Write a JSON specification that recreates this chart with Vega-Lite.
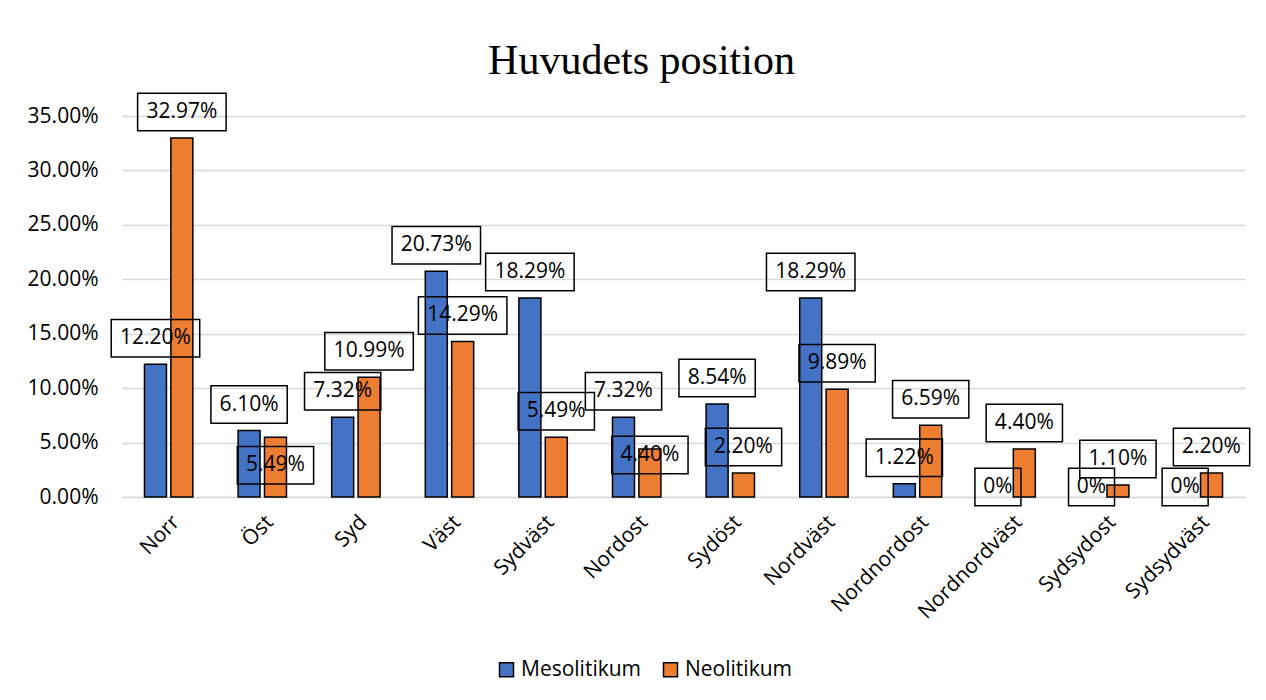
{
  "$schema": "https://vega.github.io/schema/vega-lite/v6.json",
  "width": 1123,
  "height": 381,
  "autosize": "none",
  "padding": {"left": 122, "top": 116, "right": 21, "bottom": 203},
  "background": "white",
  "title": {
    "text": "Huvudets position",
    "font": "Liberation Serif",
    "fontSize": 42,
    "fontWeight": "normal",
    "color": "black",
    "anchor": "middle",
    "dx": -42,
    "offset": 7
  },
  "config": {
    "view": {"stroke": null},
    "font": "Open Sans"
  },
  "data": {
    "values": [
      {"riktning": "Norr", "period": "Mesolitikum", "andel": 0.1220},
      {"riktning": "Norr", "period": "Neolitikum", "andel": 0.3297},
      {"riktning": "Öst", "period": "Mesolitikum", "andel": 0.0610},
      {"riktning": "Öst", "period": "Neolitikum", "andel": 0.0549},
      {"riktning": "Syd", "period": "Mesolitikum", "andel": 0.0732},
      {"riktning": "Syd", "period": "Neolitikum", "andel": 0.1099},
      {"riktning": "Väst", "period": "Mesolitikum", "andel": 0.2073},
      {"riktning": "Väst", "period": "Neolitikum", "andel": 0.1429},
      {"riktning": "Sydväst", "period": "Mesolitikum", "andel": 0.1829},
      {"riktning": "Sydväst", "period": "Neolitikum", "andel": 0.0549},
      {"riktning": "Nordost", "period": "Mesolitikum", "andel": 0.0732},
      {"riktning": "Nordost", "period": "Neolitikum", "andel": 0.0440},
      {"riktning": "Sydöst", "period": "Mesolitikum", "andel": 0.0854},
      {"riktning": "Sydöst", "period": "Neolitikum", "andel": 0.0220},
      {"riktning": "Nordväst", "period": "Mesolitikum", "andel": 0.1829},
      {"riktning": "Nordväst", "period": "Neolitikum", "andel": 0.0989},
      {"riktning": "Nordnordost", "period": "Mesolitikum", "andel": 0.0122},
      {"riktning": "Nordnordost", "period": "Neolitikum", "andel": 0.0659},
      {"riktning": "Nordnordväst", "period": "Mesolitikum", "andel": 0},
      {"riktning": "Nordnordväst", "period": "Neolitikum", "andel": 0.0440},
      {"riktning": "Sydsydost", "period": "Mesolitikum", "andel": 0},
      {"riktning": "Sydsydost", "period": "Neolitikum", "andel": 0.0110},
      {"riktning": "Sydsydväst", "period": "Mesolitikum", "andel": 0},
      {"riktning": "Sydsydväst", "period": "Neolitikum", "andel": 0.0220}
    ]
  },
  "encoding": {
    "x": {
      "field": "riktning",
      "type": "nominal",
      "sort": null,
      "title": null,
      "scale": {"paddingInner": 0.483, "paddingOuter": 0.24},
      "axis": {
        "labelAngle": -45,
        "labelFontSize": 21,
        "labelFont": "Open Sans",
        "labelColor": "black",
        "labelPadding": 14,
        "ticks": false,
        "domainColor": "#d9d9d9",
        "domainWidth": 1.3,
        "grid": false
      }
    },
    "xOffset": {
      "field": "period",
      "sort": ["Mesolitikum", "Neolitikum"],
      "scale": {"paddingInner": 0.1667}
    },
    "y": {
      "field": "andel",
      "type": "quantitative",
      "title": null,
      "scale": {"domain": [0, 0.35], "nice": false},
      "axis": {
        "values": [0, 0.05, 0.1, 0.15, 0.2, 0.25, 0.3, 0.35],
        "format": ".2%",
        "labelFontSize": 21,
        "labelFont": "Open Sans",
        "labelColor": "black",
        "labelPadding": 24,
        "ticks": false,
        "domain": false,
        "gridColor": "#d9d9d9",
        "gridWidth": 1.3
      }
    }
  },
  "layer": [
    {
      "transform": [{"filter": "datum.andel > 0"}],
      "mark": {"type": "bar", "stroke": "black", "strokeWidth": 1.5},
      "encoding": {
        "color": {
          "field": "period",
          "type": "nominal",
          "scale": {"domain": ["Mesolitikum", "Neolitikum"], "range": ["#4472C4", "#ED7D31"]},
          "legend": {
            "orient": "none",
            "legendX": 374,
            "legendY": 543,
            "title": null,
            "direction": "horizontal",
            "symbolType": "square",
            "symbolSize": 196,
            "symbolStrokeColor": "black",
            "symbolStrokeWidth": 1.5,
            "labelFontSize": 21,
            "labelFont": "Open Sans",
            "labelColor": "black",
            "columnPadding": 18,
            "labelOffset": 4
          }
        }
      }
    },
    {
      "mark": {
        "type": "point",
        "filled": false,
        "color": "black",
        "strokeWidth": 1.5,
        "opacity": 1,
        "size": 10000,
        "yOffset": {"expr": "datum.andel === 0 ? -10 : (datum.riktning === 'Öst' && datum.period === 'Neolitikum') ? 28 : (datum.riktning === 'Nordost' && datum.period === 'Neolitikum') ? 6 : -26"}
      },
      "encoding": {
        "shape": {
          "condition": [
            {"test": "datum.andel === 0", "value": "M-0.46,-0.375H0.46V0.375H-0.46Z"},
            {"test": "datum.andel >= 0.1", "value": "M-0.885,-0.375H0.885V0.375H-0.885Z"}
          ],
          "value": "M-0.763,-0.375H0.763V0.375H-0.763Z"
        }
      }
    },
    {
      "mark": {
        "type": "text",
        "yOffset": {"expr": "datum.andel === 0 ? -10 : (datum.riktning === 'Öst' && datum.period === 'Neolitikum') ? 28 : (datum.riktning === 'Nordost' && datum.period === 'Neolitikum') ? 6 : -26"},
        "fontSize": 21,
        "font": "Open Sans",
        "color": "black",
        "baseline": "middle",
        "align": "center"
      },
      "encoding": {
        "text": {
          "condition": {"test": "datum.andel === 0", "value": "0%"},
          "field": "andel",
          "type": "quantitative",
          "format": ".2%"
        }
      }
    }
  ]
}
